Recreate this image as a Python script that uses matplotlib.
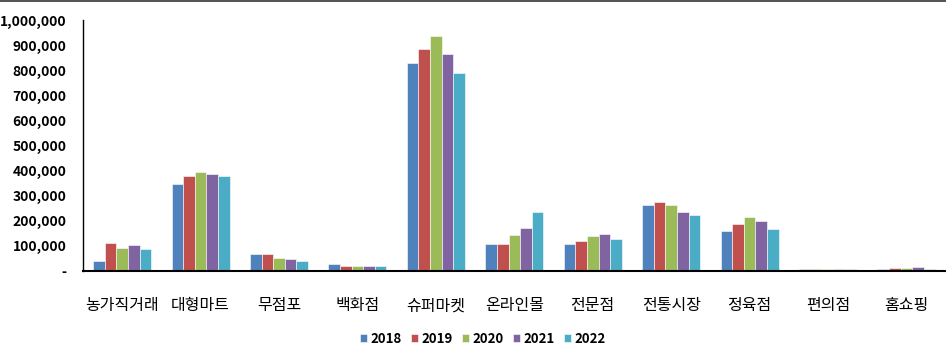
import numpy as np
import matplotlib.pyplot as plt
from matplotlib.ticker import FuncFormatter

plt.rcParams['font.family'] = ['Noto Sans CJK KR', 'DejaVu Sans']

# 유통경로별 연도별 값
categories = ['농가직거래', '대형마트', '무점포', '백화점', '슈퍼마켓', '온라인몰',
              '전문점', '전통시장', '정육점', '편의점', '홈쇼핑']
years = ['2018', '2019', '2020', '2021', '2022']
v2018 = [41000, 345000, 66000, 27000, 829000, 108000, 108000, 263000, 158000, 8000, 8000]
v2019 = [111000, 380000, 66000, 21000, 884000, 108000, 118000, 275000, 187000, 8000, 12000]
v2020 = [92000, 394000, 52000, 21000, 936000, 142000, 138000, 263000, 214000, 7000, 12000]
v2021 = [102000, 385000, 46000, 21000, 865000, 173000, 147000, 234000, 199000, 8000, 16000]
v2022 = [86000, 380000, 41000, 21000, 789000, 234000, 127000, 223000, 167000, 7000, 8000]
series = [v2018, v2019, v2020, v2021, v2022]
colors = ['#4F81BD', '#C0504D', '#9BBB59', '#8064A2', '#4BACC6']

fig = plt.figure(figsize=(9.46, 3.64), dpi=100)
ax = fig.add_axes([0.0877, 0.2555, 0.912, 0.6895])

x = np.arange(len(categories))
w = 0.148
for i, (vals, c) in enumerate(zip(series, colors)):
    ax.bar(x + (i - 2) * w, vals, w, color=c, edgecolor='white', linewidth=0.4,
           label=years[i], zorder=2)

ax.set_xlim(-0.5, len(categories) - 0.5)
ax.set_ylim(0, 1000000)
ax.set_yticks(np.arange(0, 1000001, 100000))
ax.yaxis.set_major_formatter(FuncFormatter(lambda v, p: '-' if v == 0 else f'{int(v):,}'))
ax.set_xticks(x)
ax.set_xticklabels(categories, fontsize=11.5)
ax.tick_params(axis='x', length=0, pad=19)
ax.tick_params(axis='y', length=0, pad=12, labelsize=10)
for lab in ax.get_yticklabels():
    lab.set_fontweight('bold')

for s in ['top', 'right']:
    ax.spines[s].set_visible(False)
ax.spines['left'].set_linewidth(1.0)
ax.spines['bottom'].set_linewidth(1.5)

h, l = ax.get_legend_handles_labels()
fig.legend(h, l, loc='center', bbox_to_anchor=(0.51, 0.07), ncol=5, frameon=False,
           handlelength=0.55, handleheight=0.55, handletextpad=0.25,
           columnspacing=0.7, prop={'weight': 'bold', 'size': 9.5})

fig.add_artist(plt.Line2D([0, 1], [0.997, 0.997], color='#333333', linewidth=1.2))

fig.savefig('out.png', dpi=100)
